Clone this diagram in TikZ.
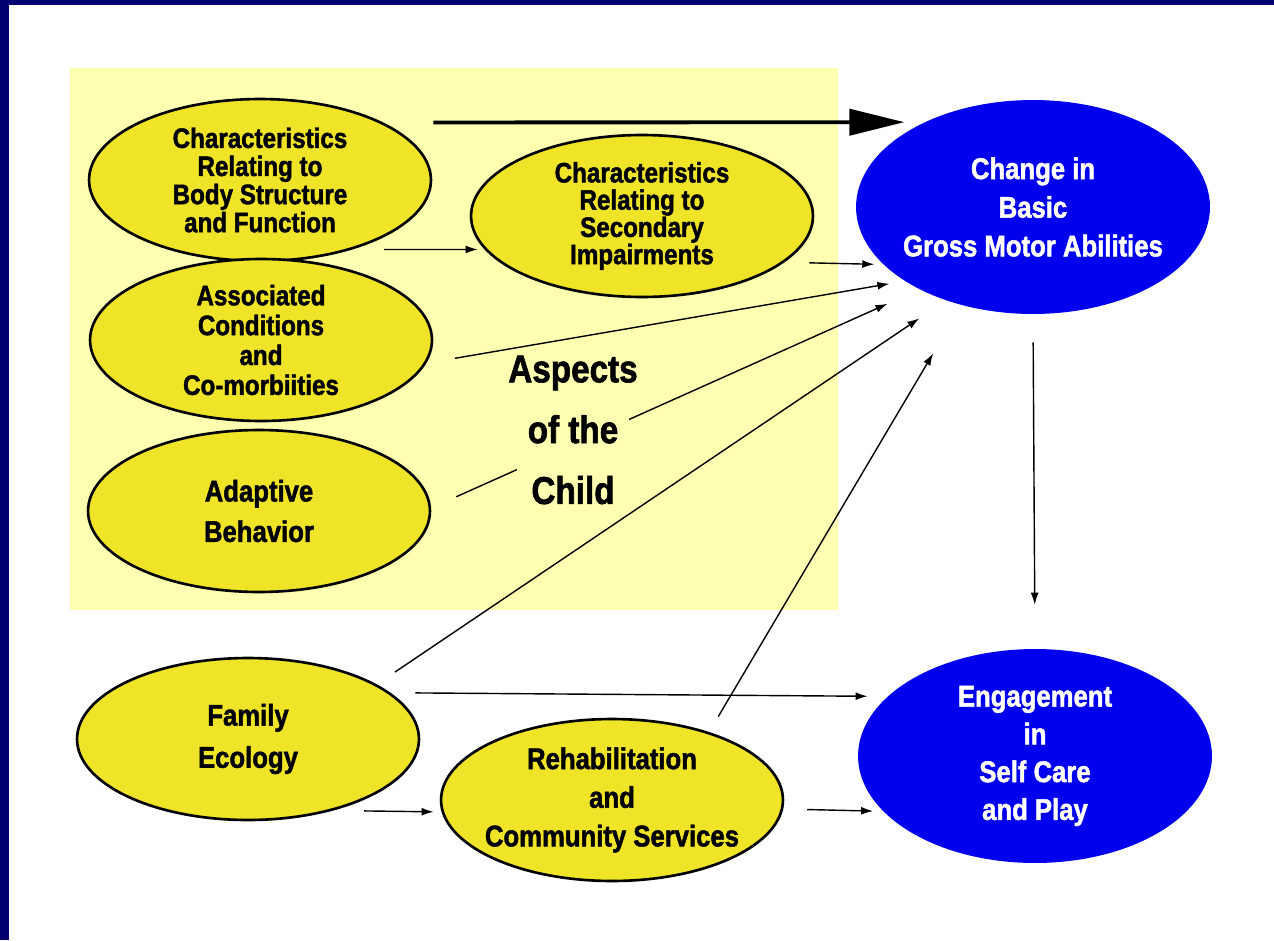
\documentclass[tikz,border=0pt]{standalone}
\usepackage{fontspec}
\setmainfont{Liberation Sans}[FakeStretch=0.86,FakeBold=1.6]
\usetikzlibrary{shapes.geometric,arrows.meta}
\definecolor{navyframe}{RGB}{0,0,112}
\definecolor{paleyellow}{RGB}{255,255,178}
\definecolor{ovalyellow}{RGB}{240,228,40}
\definecolor{ovalblue}{RGB}{0,0,238}
\begin{document}
\begin{tikzpicture}[x=0.02cm,y=-0.02cm,aspect/.style={ellipse, draw=black, line width=1.5pt, fill=ovalyellow, minimum width=6.84cm, minimum height=3.24cm, align=center, inner xsep=-8pt, inner ysep=-4pt, font=\fontsize{16}{16}\selectfont\bfseries},outcome/.style={ellipse, fill=ovalblue, text=white, minimum width=7.08cm, minimum height=4.28cm, align=center, inner xsep=-8pt, inner ysep=-4pt},link/.style={-{Latex[length=0.24cm,width=0.16cm]}, line width=0.8pt},biglink/.style={-{Triangle[length=1.1cm,width=0.52cm]}, line width=2.2pt}]
\useasboundingbox (0,0) rectangle (1274,940);
\fill[navyframe] (0,0) rectangle (1274,940);
\fill[white] (9,5) rectangle (1274,940);
\fill[paleyellow] (70,68) rectangle (838,610);

\node[aspect] at (260,180) (bsf) {Characteristics\\Relating to\\Body Structure\\and Function};
\node[aspect] [font=\fontsize{16}{17}\selectfont\bfseries] at (261,340) (acc) {Associated\\Conditions\\and\\Co-morbiities};
\node[aspect] [font=\fontsize{17}{23}\selectfont\bfseries] at (259,511) (adb) {Adaptive\\Behavior};
\node[aspect] [font=\fontsize{16}{15.5}\selectfont\bfseries] at (642,216) (sec) {Characteristics\\Relating to\\Secondary\\Impairments};
\node[outcome] [font=\fontsize{17}{22}\selectfont\bfseries] at (1033,207) (gma) {Change in\\Basic\\Gross Motor Abilities};
\node[aspect] [font=\fontsize{17}{24}\selectfont\bfseries] at (248,739) (fam) {Family\\Ecology};
\node[aspect] [font=\fontsize{17}{22}\selectfont\bfseries] at (612,800) (rcs) {Rehabilitation\\and\\Community Services};
\node[outcome] [font=\fontsize{17}{21.5}\selectfont\bfseries] at (1035,756) (esp) {Engagement\\in\\Self Care\\and Play};

					\draw[biglink] [shorten <=1cm, shorten >=0.4cm] (bsf.25) -- (gma.142);
					\draw[link] [shorten <=0.64cm, shorten >=0.14cm] (bsf.-37.6) -- (sec.-168.5);
					\draw[link] [shorten <=0.5cm, shorten >=0.18cm] (sec.-18.1) -- (gma.-159.6);
					\draw[link] [shorten <=0.58cm, shorten >=0.31cm] (acc.-8) -- (gma.-150.9);
					\draw[link] [shorten <=0.55cm, shorten >=0.7cm] (adb.1.6) -- (gma.-144.3);
					\draw[link] [shorten <=0.44cm, shorten >=0.64cm] (fam.23.5) -- (gma.-133.2);
					\draw[link] [shorten <=0.36cm, shorten >=1.12cm] (rcs.35.8) -- (gma.-126);

					\draw[link] [shorten <=0.56cm, shorten >=0.88cm] (gma.south) -- (esp.north);

					\draw[link] [shorten <=0.5cm, shorten >=0.4cm] (fam.18.1) -- (esp.158.2);
					\draw[link] [shorten <=0.62cm, shorten >=0.16cm] (fam.-40.8) -- (rcs.-176.6);
					\draw[link] [shorten <=0.48cm, shorten >=0.2cm] (rcs.-3.7) -- (esp.-160.1);

\node[fill=paleyellow, align=center, inner xsep=-5pt, inner ysep=1pt, font=\fontsize{22}{34.6}\selectfont\bfseries] at (573,430) (asp) {Aspects\\of the\\Child};
\end{tikzpicture}
\end{document}
